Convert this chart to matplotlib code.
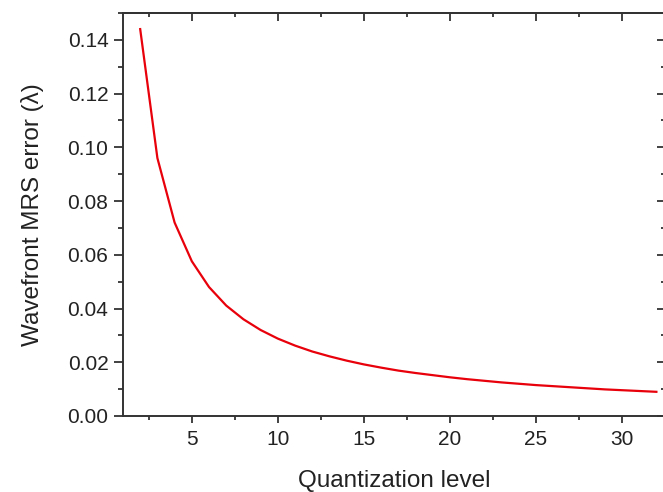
import matplotlib
matplotlib.use("Agg")
import matplotlib.pyplot as plt
from matplotlib.ticker import MultipleLocator

plt.rcParams['font.family'] = ['Liberation Sans', 'DejaVu Sans']

# quantization level vs wavefront error
levels = [2, 3, 4, 5, 6, 7, 8, 9, 10, 11, 12, 13, 14, 15, 16, 17,
          18, 19, 20, 21, 22, 23, 24, 25, 26, 27, 28, 29, 30, 31, 32]
mrs_error = [0.144, 0.096, 0.072, 0.0576, 0.048, 0.0411, 0.036, 0.032,
             0.0288, 0.0262, 0.024, 0.0222, 0.0206, 0.0192, 0.018, 0.0169,
             0.016, 0.0152, 0.0144, 0.0137, 0.0131, 0.0125, 0.012, 0.0115,
             0.0111, 0.0107, 0.0103, 0.0099, 0.0096, 0.0093, 0.009]

fig = plt.figure(figsize=(6.63, 4.92), dpi=100, facecolor="white")
ax = fig.add_axes([0.1855, 0.1545, 0.8175, 0.8191])

ax.plot(levels, mrs_error, color="#e8000b", linewidth=1.6)

ax.set_xlim(1, 32.5)
ax.set_ylim(0, 0.15)
ax.xaxis.set_major_locator(MultipleLocator(5))
ax.xaxis.set_minor_locator(MultipleLocator(2.5))
ax.yaxis.set_major_locator(MultipleLocator(0.02))
ax.yaxis.set_minor_locator(MultipleLocator(0.01))
ax.yaxis.set_major_formatter(plt.FormatStrFormatter("%.2f"))

spine_col = "#333333"
for s in ax.spines.values():
    s.set_color(spine_col)
    s.set_linewidth(1.4)

ax.tick_params(which='both', direction='out', top=False, right=False,
               colors=spine_col, labelcolor="#222222", labelsize=15, width=1.3)
ax.tick_params(axis='y', which='major', length=6.5, pad=4)
ax.tick_params(axis='y', which='minor', length=3.5)
ax.tick_params(axis='x', which='major', length=5, pad=5)
ax.tick_params(axis='x', which='minor', length=3)

# mirrored ticks on top and right, pointing inward
axt = ax.secondary_xaxis('top')
axt.xaxis.set_major_locator(MultipleLocator(5))
axt.xaxis.set_minor_locator(MultipleLocator(2.5))
axt.tick_params(which='both', direction='in', labeltop=False, colors=spine_col, width=1.3)
axt.tick_params(which='major', length=6)
axt.tick_params(which='minor', length=3)
axt.spines['top'].set_color(spine_col)
axt.spines['top'].set_linewidth(1.4)

axr = ax.secondary_yaxis('right')
axr.yaxis.set_major_locator(MultipleLocator(0.02))
axr.yaxis.set_minor_locator(MultipleLocator(0.01))
axr.tick_params(which='both', direction='in', labelright=False, colors=spine_col, width=1.3)
axr.tick_params(which='major', length=6)
axr.tick_params(which='minor', length=3)

ax.set_xlabel("Quantization level", fontsize=17.5, color="#222222", labelpad=15)
ax.set_ylabel("Wavefront MRS error (\u03bb)", fontsize=17.5, color="#222222", labelpad=17)

fig.savefig("out.png", dpi=100)
